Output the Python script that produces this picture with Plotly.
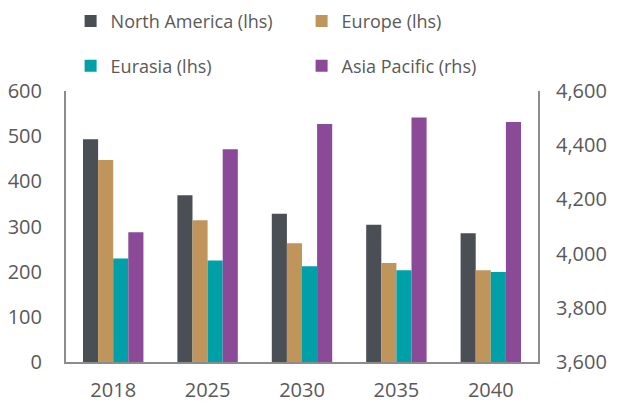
import plotly.graph_objects as go

# categories and series (lhs: mb/d-style units, rhs: Asia Pacific)
YEARS = ['2018', '2025', '2030', '2035', '2040']
NORTH_AMERICA = [493, 369, 328, 304, 285]
EUROPE = [447, 314, 263, 219, 203]
EURASIA = [229, 225, 212, 203, 199]
ASIA_PACIFIC = [4079, 4385, 4478, 4502, 4486]

COLORS = ['#4a4e55', '#bf955b', '#00a0a8', '#8a4a98']
FONT = dict(family='Open Sans', size=18, color='#595959')
TICK_FONT = dict(family='Open Sans', size=20, color='#595959')


fig = go.Figure()

# two horizontal legends to get the wide row gap of the original
series = [('North America (lhs)', NORTH_AMERICA, 'y', 'legend'),
          ('Europe (lhs)', EUROPE, 'y', 'legend'),
          ('Eurasia (lhs)', EURASIA, 'y', 'legend2'),
          ('Asia Pacific (rhs)', ASIA_PACIFIC, 'y2', 'legend2')]

for i, (name, vals, ax, leg) in enumerate(series):
    fig.add_trace(go.Bar(x=YEARS, y=vals, name=name, yaxis=ax,
                         offsetgroup=str(i), legend=leg,
                         marker=dict(color=COLORS[i], line=dict(width=0))))

leg_style = dict(orientation='h', xref='container', yref='container',
                 x=0.1028, xanchor='left', yanchor='middle',
                 entrywidth=186, entrywidthmode='pixels', font=FONT,
                 bgcolor='rgba(0,0,0,0)')

# the page body adds an 8px offset: shrink the figure so no scrollbars appear
fig.update_layout(
    width=609, height=395,
    barmode='group', bargap=0.36, bargroupgap=0,
    plot_bgcolor='white', paper_bgcolor='white',
    font=FONT,
    margin=dict(l=58, r=79, t=83, b=41),
    xaxis=dict(showline=True, linecolor='#8c8c8c', linewidth=2,
               ticks='', showgrid=False, automargin=False, tickfont=TICK_FONT,
               ticklabelstandoff=9),
    yaxis=dict(range=[0, 600], dtick=100, showline=True, linecolor='#8c8c8c',
               linewidth=2, showgrid=False, ticks='', ticklabelstandoff=18,
               zeroline=False, automargin=False, tickfont=TICK_FONT),
    yaxis2=dict(range=[3600, 4600], dtick=200, overlaying='y', side='right',
                showline=True, linecolor='#8c8c8c', linewidth=2, showgrid=False,
                ticks='', tickformat=',', ticklabelstandoff=12, zeroline=False,
                automargin=False, tickfont=TICK_FONT),
    legend=dict(leg_style, y=0.9663),
    legend2=dict(leg_style, y=0.853),
)

fig.write_html("out.html")
